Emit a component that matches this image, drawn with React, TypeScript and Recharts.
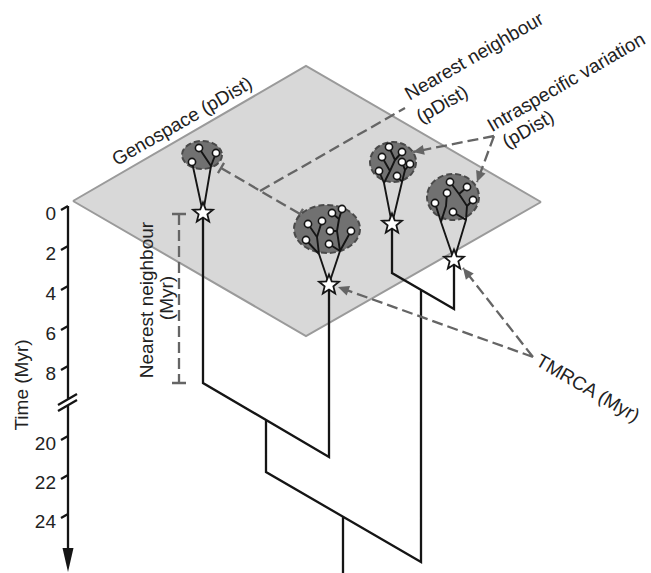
import React from 'react';
import { ComposedChart, XAxis, YAxis, Line, Scatter, Area } from 'recharts';

const W = 651;
const H = 573;

type Pt = [number, number];

// ---- Genospace plane (diagram units, x to the right, y downward) ----
const planeX = [73, 306, 541];
const planeTop = [201, 66, 202];
const planeBottom = [201, 336, 202];

// ---- Time axis ----
const timeTicks = [0, 2, 4, 6, 8, 20, 22, 24];
const axisX = 68;
const axisTop = 206;
const axisBreakTop = 399;
const axisBreakBottom = 406;
const axisEnd = 572;
const timeY = (t: number) => (t <= 8 ? axisTop + t * 20 : 436 + (t - 20) * 19.5);

// ---- Phylogeny (solid branches) ----
const treeBranches: Pt[][] = [
  [[203, 213], [203, 383], [329, 457], [329, 285]],
  [[266, 420], [266, 472], [421, 562], [421, 290]],
  [[392, 224], [392, 273], [454, 309], [454, 260]],
  [[343, 517], [343, 580]],
];

// ---- Stars (TMRCA of each species) ----
const starsX = [203, 329, 392, 454];
const starsY = [213, 285, 224, 260];

// ---- Species clusters in genospace ----
const clusterX = [202, 327, 393, 453];
const clusterY = [155, 229, 162, 197];
const clusterSpreadX = [20, 33, 23, 26];
const clusterSpreadY = [14, 24, 20, 23];

// cluster-internal trees (cones from stars + small branches)
const clusterTrees: Pt[][] = [
  // cluster 1
  [[203, 213], [192, 162]],
  [[203, 213], [211, 166], [199, 148]],
  [[211, 166], [216, 153]],
  // cluster 2
  [[329, 284], [319, 254], [306, 240]],
  [[319, 254], [317, 237], [308, 224]],
  [[317, 237], [322, 221]],
  [[329, 284], [340, 251], [351, 231]],
  [[340, 251], [329, 244]],
  [[340, 251], [337, 231], [330, 231]],
  [[337, 231], [339, 219], [332, 213]],
  [[339, 219], [342, 209]],
  // cluster 3
  [[392, 224], [384, 183], [379, 171]],
  [[384, 183], [390, 171], [382, 157]],
  [[390, 171], [395, 160], [389, 147]],
  [[395, 160], [402, 152]],
  [[392, 224], [402, 182], [397, 176]],
  [[402, 182], [405, 170], [402, 162]],
  [[405, 170], [410, 164]],
  // cluster 4
  [[454, 260], [441, 222], [435, 203]],
  [[441, 222], [446, 206], [447, 193]],
  [[454, 260], [466, 220], [453, 212]],
  [[466, 220], [467, 206], [473, 200]],
  [[467, 206], [459, 194], [450, 182]],
  [[459, 194], [467, 187]],
];

const tipsX = [192, 199, 216, 306, 308, 322, 332, 342, 330, 351, 329, 389, 402, 382, 402, 410, 379, 397, 450, 467, 447, 435, 473, 453];
const tipsY = [162, 148, 153, 240, 224, 221, 213, 209, 231, 231, 244, 147, 152, 157, 162, 164, 171, 176, 182, 187, 193, 203, 200, 212];

// ---- Dashed measures ----
const pDistBar: Pt[] = [[221, 168], [300, 214]];
const pDistConnector: Pt[] = [[260, 191], [405, 108]];
const myrBar: Pt[] = [[179, 214], [179, 383]];
const arrowFrom: Pt[] = [[494, 136], [494, 136], [533, 357], [533, 357]];
const arrowTo: Pt[] = [[413, 152], [477, 182], [463, 268], [338, 287]];

// ---- Labels ----
const labelText = [
  'Time (Myr)',
  'Nearest neighbour',
  '(Myr)',
  'Genospace (pDist)',
  'Nearest neighbour',
  '(pDist)',
  'Intraspecific variation',
  '(pDist)',
  'TMRCA (Myr)',
];
const labelX = [21, 146, 166, 182, 474, 442, 566, 528, 588];
const labelY = [385, 300, 298, 121, 56, 104, 82, 129, 388];
const labelAngle = [-90, -90, -90, -30, -30, -30, -30, -30, 30];

// ---------------- helpers ----------------
const ink = '#151515';
const dashGrey = '#656565';
const font = 'Liberation Sans, Arial, Helvetica, sans-serif';

const polysToData = (polys: Pt[][]) => {
  const out: { x: number; y: number | null }[] = [];
  polys.forEach((p) => {
    p.forEach(([x, y]) => out.push({ x, y }));
    out.push({ x: p[p.length - 1][0], y: null });
  });
  return out;
};

const perpCaps = (a: Pt, b: Pt, half: number): Pt[][] => {
  const dx = b[0] - a[0];
  const dy = b[1] - a[1];
  const L = Math.hypot(dx, dy);
  const px = (-dy / L) * half;
  const py = (dx / L) * half;
  return [a, b].map((p) => [
    [p[0] - px, p[1] - py],
    [p[0] + px, p[1] + py],
  ] as Pt[]);
};

const planeData = planeX.map((x, i) => ({ x, y: [planeTop[i], planeBottom[i]] }));

const axisData = polysToData([
  [[axisX, axisTop], [axisX, axisBreakTop]],
  [[axisX, axisBreakBottom], [axisX, axisEnd - 20]],
  ...timeTicks.map((t) => [[axisX, timeY(t)], [axisX - 7, timeY(t) + 4]] as Pt[]),
  [[58, 405], [77, 394]],
  [[58, 411], [77, 400]],
]);

const treeData = polysToData(treeBranches);
const clusterTreeData = polysToData(clusterTrees);

const dashedData = polysToData([
  pDistBar,
  pDistConnector,
  myrBar,
  ...arrowFrom.map((f, i) => [f, arrowTo[i]] as Pt[]),
]);

const capData = polysToData([
  ...perpCaps(pDistBar[0], pDistBar[1], 6),
  [[myrBar[0][0] - 7, myrBar[0][1]], [myrBar[0][0] + 7, myrBar[0][1]]],
  [[myrBar[1][0] - 7, myrBar[1][1]], [myrBar[1][0] + 7, myrBar[1][1]]],
]);

const clusterData = clusterX.map((x, i) => ({ x, y: clusterY[i], sx: clusterSpreadX[i], sy: clusterSpreadY[i] }));
const tipData = tipsX.map((x, i) => ({ x, y: tipsY[i] }));
const starData = starsX.map((x, i) => ({ x, y: starsY[i] }));
const arrowHeadData = arrowTo.map((p, i) => ({ x: p[0], y: p[1], fx: arrowFrom[i][0], fy: arrowFrom[i][1] }));
const axisArrowData = [{ x: axisX, y: axisEnd, fx: axisX, fy: axisTop }];
const labelData = labelText.map((text, i) => ({ x: labelX[i], y: labelY[i], text, angle: labelAngle[i], anchor: 'middle' }));
const tickLabelData = timeTicks.map((t) => ({ x: 56, y: timeY(t) + 7, text: String(t), angle: 0, anchor: 'end' }));

// ---------------- shapes ----------------
const EllipseShape = (props: any) => {
  const { cx, cy, payload } = props;
  return (
    <ellipse cx={cx} cy={cy} rx={payload.sx} ry={payload.sy} fill="#717171" stroke="#4a4a4a" strokeWidth={2} strokeDasharray="6 3" />
  );
};

const TipShape = (props: any) => {
  const { cx, cy } = props;
  return <circle cx={cx} cy={cy} r={3.6} fill="#fff" stroke={ink} strokeWidth={1.6} />;
};

const StarShape = (props: any) => {
  const { cx, cy } = props;
  const pts: string[] = [];
  for (let k = 0; k < 10; k++) {
    const r = k % 2 === 0 ? 10.5 : 4.6;
    const a = -Math.PI / 2 + (k * Math.PI) / 5;
    pts.push(`${cx + r * Math.cos(a)},${cy + r * Math.sin(a)}`);
  }
  return <polygon points={pts.join(' ')} fill="#fff" stroke={ink} strokeWidth={1.8} strokeLinejoin="miter" />;
};

const makeArrow = (len: number, half: number, color: string) => (props: any) => {
  const { cx, cy, payload } = props;
  const dx = payload.x - payload.fx;
  const dy = payload.y - payload.fy;
  const L = Math.hypot(dx, dy);
  const ux = dx / L;
  const uy = dy / L;
  const bx = cx - ux * len;
  const by = cy - uy * len;
  const p1 = `${cx},${cy}`;
  const p2 = `${bx - uy * half},${by + ux * half}`;
  const p3 = `${bx + uy * half},${by - ux * half}`;
  return <polygon points={`${p1} ${p2} ${p3}`} fill={color} />;
};

const DashArrow = makeArrow(11, 5, dashGrey);
const AxisArrow = makeArrow(24, 5.5, ink);

const TextShape = (props: any) => {
  const { cx, cy, payload } = props;
  return (
    <text
      x={cx}
      y={cy}
      transform={`rotate(${payload.angle} ${cx} ${cy})`}
      textAnchor={payload.anchor}
      dominantBaseline="central"
      fontSize={19}
      fontFamily={font}
      fill="#222"
    >
      {payload.text}
    </text>
  );
};

export default function App() {
  return (
    <div style={{ position: 'absolute', left: 0, top: 0, width: W, height: H, background: '#fff' }}>
      <ComposedChart width={W} height={H} margin={{ top: 0, right: 0, bottom: 0, left: 0 }}>
        <XAxis type="number" dataKey="x" domain={[0, W]} hide allowDataOverflow />
        <YAxis type="number" dataKey="y" domain={[0, H]} reversed hide allowDataOverflow />
        <Area
          data={planeData}
          dataKey="y"
          type="linear"
          fill="#d8d8d8"
          fillOpacity={1}
          stroke="#9a9a9a"
          strokeWidth={2}
          dot={false}
          activeDot={false}
          isAnimationActive={false}
          zIndex={100}
        />
        <Line data={treeData} dataKey="y" type="linear" stroke={ink} strokeWidth={2.3} dot={false} activeDot={false} connectNulls={false} isAnimationActive={false} zIndex={110} />
        <Line data={axisData} dataKey="y" type="linear" stroke={ink} strokeWidth={2.3} dot={false} activeDot={false} connectNulls={false} isAnimationActive={false} zIndex={120} />
        <Line data={dashedData} dataKey="y" type="linear" stroke={dashGrey} strokeWidth={2.3} strokeDasharray="11 5" dot={false} activeDot={false} connectNulls={false} isAnimationActive={false} zIndex={130} />
        <Line data={capData} dataKey="y" type="linear" stroke={dashGrey} strokeWidth={2.3} dot={false} activeDot={false} connectNulls={false} isAnimationActive={false} zIndex={140} />
        <Scatter data={clusterData} shape={EllipseShape} isAnimationActive={false} zIndex={150} />
        <Line data={clusterTreeData} dataKey="y" type="linear" stroke={ink} strokeWidth={1.9} dot={false} activeDot={false} connectNulls={false} isAnimationActive={false} zIndex={160} />
        <Scatter data={tipData} shape={TipShape} isAnimationActive={false} zIndex={170} />
        <Scatter data={starData} shape={StarShape} isAnimationActive={false} zIndex={180} />
        <Scatter data={arrowHeadData} shape={DashArrow} isAnimationActive={false} zIndex={190} />
        <Scatter data={axisArrowData} shape={AxisArrow} isAnimationActive={false} zIndex={200} />
        <Scatter data={labelData} shape={TextShape} isAnimationActive={false} zIndex={210} />
        <Scatter data={tickLabelData} shape={TextShape} isAnimationActive={false} zIndex={220} />
      </ComposedChart>
    </div>
  );
}
